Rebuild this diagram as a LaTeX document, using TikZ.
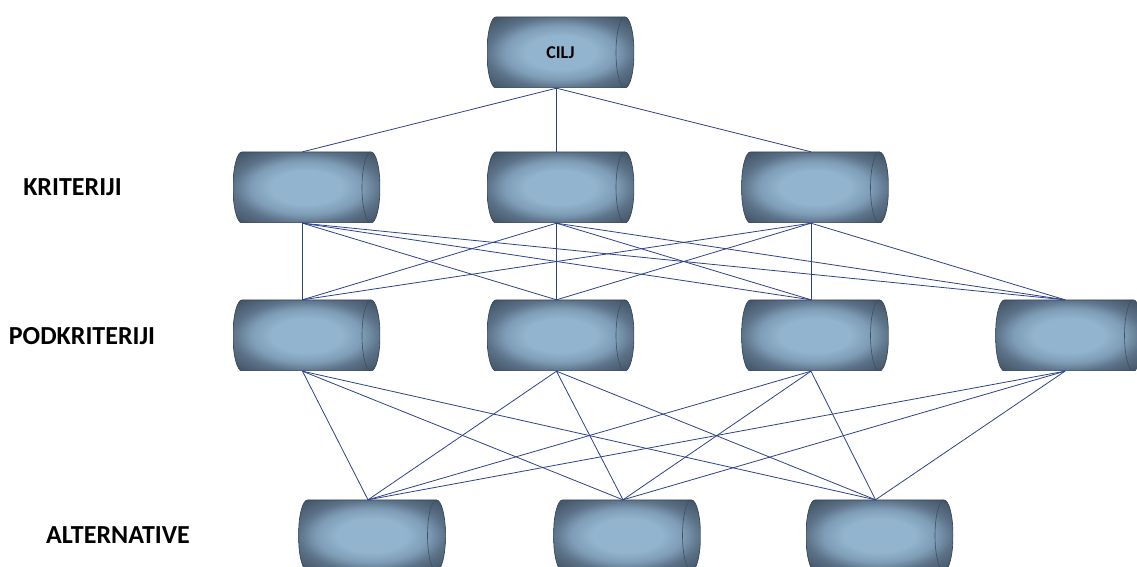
\documentclass[tikz,border=0pt]{standalone}
\usepackage{fontspec}
\setmainfont{Carlito}
\definecolor{cylL}{RGB}{146,180,206}
\definecolor{cylM}{RGB}{126,156,182}
\definecolor{cylE}{RGB}{92,114,136}
\definecolor{cylD}{RGB}{62,78,96}
\definecolor{edgec}{RGB}{58,72,88}
\definecolor{capc}{RGB}{62,80,98}
\definecolor{linkc}{RGB}{44,66,138}
\pgfdeclareradialshading{cylshade}{\pgfpoint{0bp}{0bp}}{color(0bp)=(cylL); color(12bp)=(cylL); color(19bp)=(cylM); color(25bp)=(cylE); color(35bp)=(cylD); color(50bp)=(cylD)}
\tikzset{
  can/.style={rectangle, minimum width=147pt, minimum height=71pt, inner sep=0pt, draw=none,
    font=\bfseries\fontsize{18}{18}\selectfont,
    path picture={
      \shadedraw[shading=cylshade, draw=edgec, line width=0.7pt]
        ([xshift=9pt]path picture bounding box.north west)
        -- ([xshift=-9pt]path picture bounding box.north east)
        arc[start angle=90, end angle=-90, x radius=9pt, y radius=35.5pt]
        -- ([xshift=9pt]path picture bounding box.south west)
        arc[start angle=270, end angle=90, x radius=9pt, y radius=35.5pt]
        -- cycle;
      \draw[capc, line width=0.6pt]
        ([xshift=-9pt]path picture bounding box.north east)
        arc[start angle=90, end angle=270, x radius=9pt, y radius=35.5pt];
    }},
  lvl/.style={font=\bfseries\fontsize{26}{26}\selectfont, inner sep=0pt},
  link/.style={linkc, line width=0.8pt}
}
\begin{document}
\begin{tikzpicture}[x=1pt,y=1pt]
\useasboundingbox (0,0) rectangle (1137,567);
% nodes
\node[can] (cilj) at (560.5,514.5) {CILJ};
\node[can] (k1) at (306.5,379.5) {};
\node[can] (k2) at (560.5,379.5) {};
\node[can] (k3) at (815,379.5) {};
\node[can] (p1) at (306.5,231.5) {};
\node[can] (p2) at (560.5,231.5) {};
\node[can] (p3) at (815,231.5) {};
\node[can] (p4) at (1069,231.5) {};
\node[can] (a1) at (372,31.5) {};
\node[can] (a2) at (627,31.5) {};
\node[can] (a3) at (879.5,31.5) {};
% labels
\node[lvl] (lk) at (72.5,380) {KRITERIJI};
\node[lvl] (lp) at (82,231) {PODKRITERIJI};
\node[lvl] (la) at (118,31.5) {ALTERNATIVE};
% connectors
\foreach \t in {k1,k2,k3}
  \draw[link] ([xshift=-4pt]cilj.south) -- ([xshift=-4pt]\t.north);
\foreach \s in {k1,k2,k3}
  \foreach \t in {p1,p2,p3,p4}
    \draw[link] ([xshift=-4pt]\s.south) -- ([xshift=-4pt]\t.north);
\foreach \s in {p1,p2,p3,p4}
  \foreach \t in {a1,a2,a3}
    \draw[link] ([xshift=-4pt]\s.south) -- ([xshift=-4pt]\t.north);
\end{tikzpicture}
\end{document}
